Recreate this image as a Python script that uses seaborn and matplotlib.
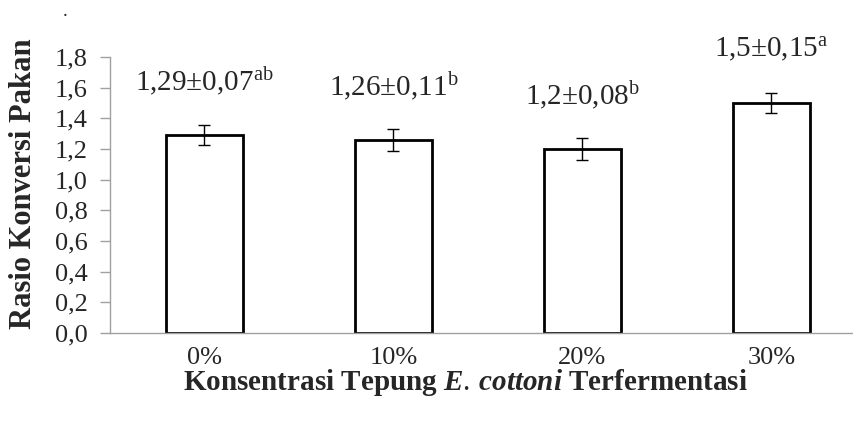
import numpy as np
import pandas as pd
import matplotlib
matplotlib.use("Agg")
import matplotlib.pyplot as plt
import seaborn as sns

# data
konsentrasi = ["0%", "10%", "20%", "30%"]
rasio = [1.29, 1.26, 1.20, 1.50]
galat = [0.065, 0.07, 0.07, 0.065]   # length of drawn error bars
label_atas = ["1,29±0,07", "1,26±0,11", "1,2±0,08", "1,5±0,15"]
notasi = ["ab", "b", "b", "a"]
yticks = [0.0, 0.2, 0.4, 0.6, 0.8, 1.0, 1.2, 1.4, 1.6, 1.8]

sns.set_style("white")
plt.rcParams["font.family"] = ["Liberation Serif", "DejaVu Serif"]
plt.rcParams["mathtext.fontset"] = "custom"
plt.rcParams["mathtext.rm"] = "Liberation Serif"
plt.rcParams["mathtext.it"] = "Liberation Serif:italic:bold"
plt.rcParams["mathtext.bf"] = "Liberation Serif:bold"

df = pd.DataFrame({"konsentrasi": konsentrasi, "rasio": rasio})

fig = plt.figure(figsize=(8.54, 4.28), dpi=100)
ax = fig.add_axes([110 / 854, 95 / 428, 756 / 854, 276 / 428])

sns.barplot(data=df, x="konsentrasi", y="rasio", color="white", edgecolor="black",
            linewidth=2, width=0.41, errorbar=None, ax=ax)
for p in ax.patches:
    p.set_facecolor("white")
ax.errorbar(np.arange(len(rasio)), rasio, yerr=galat, fmt="none", ecolor="black",
            elinewidth=1, capsize=4.5, capthick=1)

# annotations above bars
for i, (v, t, n) in enumerate(zip(rasio, label_atas, notasi)):
    ax.annotate(t + r"$^{\mathrm{" + n + "}}$", xy=(i, v), xytext=(0, 38),
                textcoords="offset points", ha="center", va="center", fontsize=21)

ax.set_ylim(0, 1.8)
ax.set_xlim(-0.5, 3.5)
ax.set_yticks(yticks)
ax.set_yticklabels([f"{t:.1f}".replace(".", ",") for t in yticks], fontsize=19)
ax.tick_params(axis="x", labelsize=19, length=0, pad=10)
ax.tick_params(axis="y", left=True, length=7, width=1, color="#a0a0a0", pad=9)

for s in ["top", "right"]:
    ax.spines[s].set_visible(False)
ax.spines["left"].set_color("#a0a0a0")
ax.spines["bottom"].set_color("#a0a0a0")
ax.spines["left"].set_linewidth(1)
ax.spines["bottom"].set_linewidth(1)

ax.set_xlabel("")
ax.set_ylabel("Rasio Konversi Pakan", fontsize=22, fontweight="bold")
ax.yaxis.set_label_coords(-0.095, 0.54)
fig.text(465 / 854, 1 - 383 / 428,
         r"Konsentrasi Tepung $\mathit{E.\,cottoni}$ Terfermentasi",
         ha="center", va="center", fontsize=21, fontweight="bold")
fig.text(65 / 854, 1 - 12 / 428, ".", ha="center", va="center", fontsize=14)

fig.savefig("out.png", dpi=100)
